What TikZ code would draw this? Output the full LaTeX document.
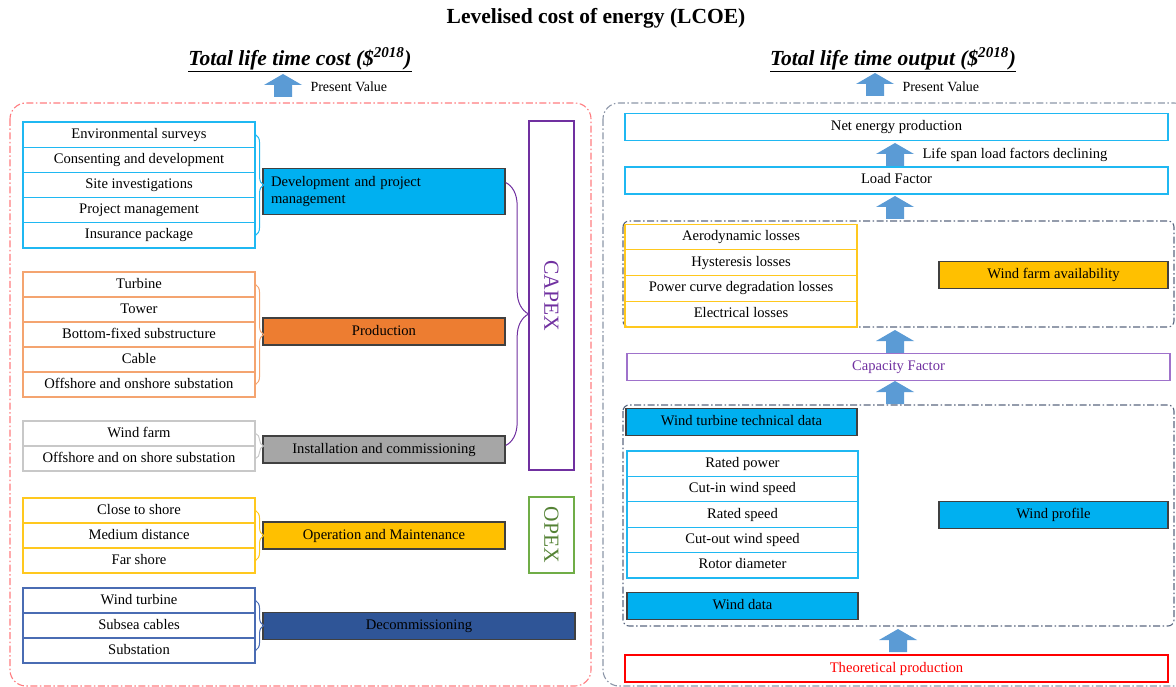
\documentclass[tikz,border=0pt]{standalone}
\usepackage{fontspec}
\setmainfont{Liberation Serif}
\usetikzlibrary{decorations.pathreplacing}

\definecolor{arrowblue}{HTML}{5B9BD5}
\definecolor{skyline}{HTML}{1FB8F2}
\definecolor{skyfill}{HTML}{00B0F0}
\definecolor{orangeline}{HTML}{F4A470}
\definecolor{orangefill}{HTML}{ED7D31}
\definecolor{greyline}{HTML}{C8C8C8}
\definecolor{greyfill}{HTML}{A6A6A6}
\definecolor{goldline}{HTML}{FFC81E}
\definecolor{goldfill}{HTML}{FFC000}
\definecolor{navyline}{HTML}{4A6CB3}
\definecolor{navyfill}{HTML}{2F5597}
\definecolor{capexpurple}{HTML}{7030A0}
\definecolor{cfline}{HTML}{9F72CB}
\definecolor{opexgreen}{HTML}{70AD47}
\definecolor{opextext}{HTML}{548235}
\definecolor{framered}{HTML}{FF7C80}
\definecolor{framegrey}{HTML}{8C96A8}
\definecolor{innergrey}{HTML}{5A6780}

\newcommand{\blockup}[2]{\fill[arrowblue] (#1,#2) -- (#1+19,#2+11) -- (#1+9,#2+11) -- (#1+9,#2+23) -- (#1-9,#2+23) -- (#1-9,#2+11) -- (#1-19,#2+11) -- cycle;}

\begin{document}
\begin{tikzpicture}[x=1pt,y=-1pt,font=\fontsize{14.6}{17}\selectfont,
    listrow/.style={draw=#1,line width=1.1pt,minimum width=232pt,minimum height=25pt,inner sep=0pt,text height=10pt,text depth=3pt},
    headbox/.style={draw=black!75,fill=#1,line width=1.3pt,minimum height=27pt,inner sep=0pt,text height=10pt,text depth=3pt},
    plainbox/.style={draw=#1,line width=1.1pt,minimum width=543pt,minimum height=27pt,inner sep=0pt,text height=10pt,text depth=3pt},
    bracket/.style={draw=#1,line width=1pt,decorate,decoration={brace,amplitude=8pt}},
    sidebox/.style={draw=#1,line width=1.1pt,rotate=-90,minimum height=45pt,inner sep=0pt,font=\fontsize{21.5}{24}\selectfont},
    framebox/.style 2 args={draw=#1,line width=1.1pt,rounded corners=#2,dash pattern=on 7pt off 2.5pt on 1.5pt off 2.5pt},
    bigtext/.style={font=\fontsize{21.5}{24}\selectfont\bfseries}]
\useasboundingbox (0,0) rectangle (1176,687);

\node[bigtext] (title) at (596,18) {Levelised cost of energy (LCOE)};
\node[bigtext] (costhead) at (300,60) {\textit{\underline{Total life time cost (\$\textsuperscript{2018})}}};
\node[bigtext] (outhead) at (893,60) {\textit{\underline{Total life time output (\$\textsuperscript{2018})}}};

\blockup{283}{74}
\node[anchor=west,font=\fontsize{14}{16}\selectfont] (pvleft) at (307,87) {Present Value};
\blockup{875}{73}
\node[anchor=west,font=\fontsize{14}{16}\selectfont] (pvright) at (899,87) {Present Value};

\draw[framebox={framered}{16pt}] (10,103) rectangle (591,686);
\draw[framebox={framegrey}{16pt}] (603,103) rectangle (1190,686);

% cost side
\foreach \t [count=\i from 0] in {Environmental surveys,Consenting and development,Site investigations,Project management,Insurance package}
  \node[listrow=skyline,minimum height=25.2pt] (env\i) at (139,{134.6+25.2*\i}) {\t};
\foreach \t [count=\i from 0] in {Turbine,Tower,Bottom-fixed substructure,Cable,Offshore and onshore substation}
  \node[listrow=orangeline] (prod\i) at (139,{284.5+25*\i}) {\t};
\foreach \t [count=\i from 0] in {Wind farm,Offshore and on shore substation}
  \node[listrow=greyline] (inst\i) at (139,{433.5+25*\i}) {\t};
\foreach \t [count=\i from 0] in {Close to shore,Medium distance,Far shore}
  \node[listrow=goldline] (om\i) at (139,{510.5+25*\i}) {\t};
\foreach \t [count=\i from 0] in {Wind turbine,Subsea cables,Substation}
  \node[listrow=navyline] (dec\i) at (139,{600.5+25*\i}) {\t};

\node[draw=black!75,fill=skyfill,line width=1.3pt,minimum width=242pt,minimum height=45pt,text width=226pt,align=left,inner sep=8pt] (dev) at (384,191.5) {Development and project\\management};
\node[headbox=orangefill,minimum width=242pt] (production) at (384,331.5) {Production};
\node[headbox=greyfill,minimum width=242pt] (install) at (384,449.5) {Installation and commissioning};
\node[headbox=goldfill,minimum width=242pt] (operation) at (384,535.5) {Operation and Maintenance};
\node[headbox=navyfill,minimum width=312pt] (decom) at (419,626) {Decommissioning};

\draw[bracket=skyline] (env0.east) -- (env4.east);
\draw[bracket=orangeline] (prod0.east) -- (prod4.east);
\draw[bracket=greyline] (inst0.east) -- (inst1.east);
\draw[bracket=goldline] (om0.east) -- (om2.east);
\draw[bracket=navyline] (dec0.east) -- (dec2.east);

\node[sidebox=capexpurple,text=capexpurple,minimum width=349pt] (capex) at (551.5,295.5) {CAPEX};
\node[sidebox=opexgreen,text=opextext,minimum width=76pt] (opex) at (551.5,535) {OPEX};
\draw[draw=capexpurple,line width=1pt,decorate,decoration={brace,amplitude=23pt}] ([yshift=9pt]dev.east) -- ([yshift=4pt]install.east);

% output side
\node[plainbox=skyline] (net) at (896.5,127) {Net energy production};
\blockup{895}{143}
\node[anchor=west] (lifespan) at (919,155) {Life span load factors declining};
\node[plainbox=skyline] (load) at (896.5,180.5) {Load Factor};
\blockup{895}{196}

\draw[framebox={innergrey}{6pt}] (623,221) rectangle (1174,327);
\foreach \t [count=\i from 0] in {Aerodynamic losses,Hysteresis losses,Power curve degradation losses,Electrical losses}
  \node[listrow=goldline,minimum height=25.7pt] (loss\i) at (741,{237+25.7*\i}) {\t};
\node[headbox=goldfill,minimum width=229pt] (avail) at (1053.5,275) {Wind farm availability};

\blockup{895}{330}
\node[plainbox=cfline,text=capexpurple] (capacity) at (898.5,367) {Capacity Factor};
\blockup{895}{381}

\draw[framebox={innergrey}{6pt}] (623,405) rectangle (1174,626);
\node[headbox=skyfill,minimum width=231pt] (techdata) at (741.5,422) {Wind turbine technical data};
\foreach \t [count=\i from 0] in {Rated power,Cut-in wind speed,Rated speed,Cut-out wind speed,Rotor diameter}
  \node[listrow=skyline,minimum width=231pt,minimum height=25.4pt] (spec\i) at (742.5,{463.7+25.4*\i}) {\t};
\node[headbox=skyfill,minimum width=231pt] (winddata) at (742.5,606) {Wind data};
\node[headbox=skyfill,minimum width=229pt] (profile) at (1053.5,515) {Wind profile};

\blockup{898}{629}
\node[plainbox=red,text=red] (theory) at (896.5,668.5) {Theoretical production};
\end{tikzpicture}
\end{document}
